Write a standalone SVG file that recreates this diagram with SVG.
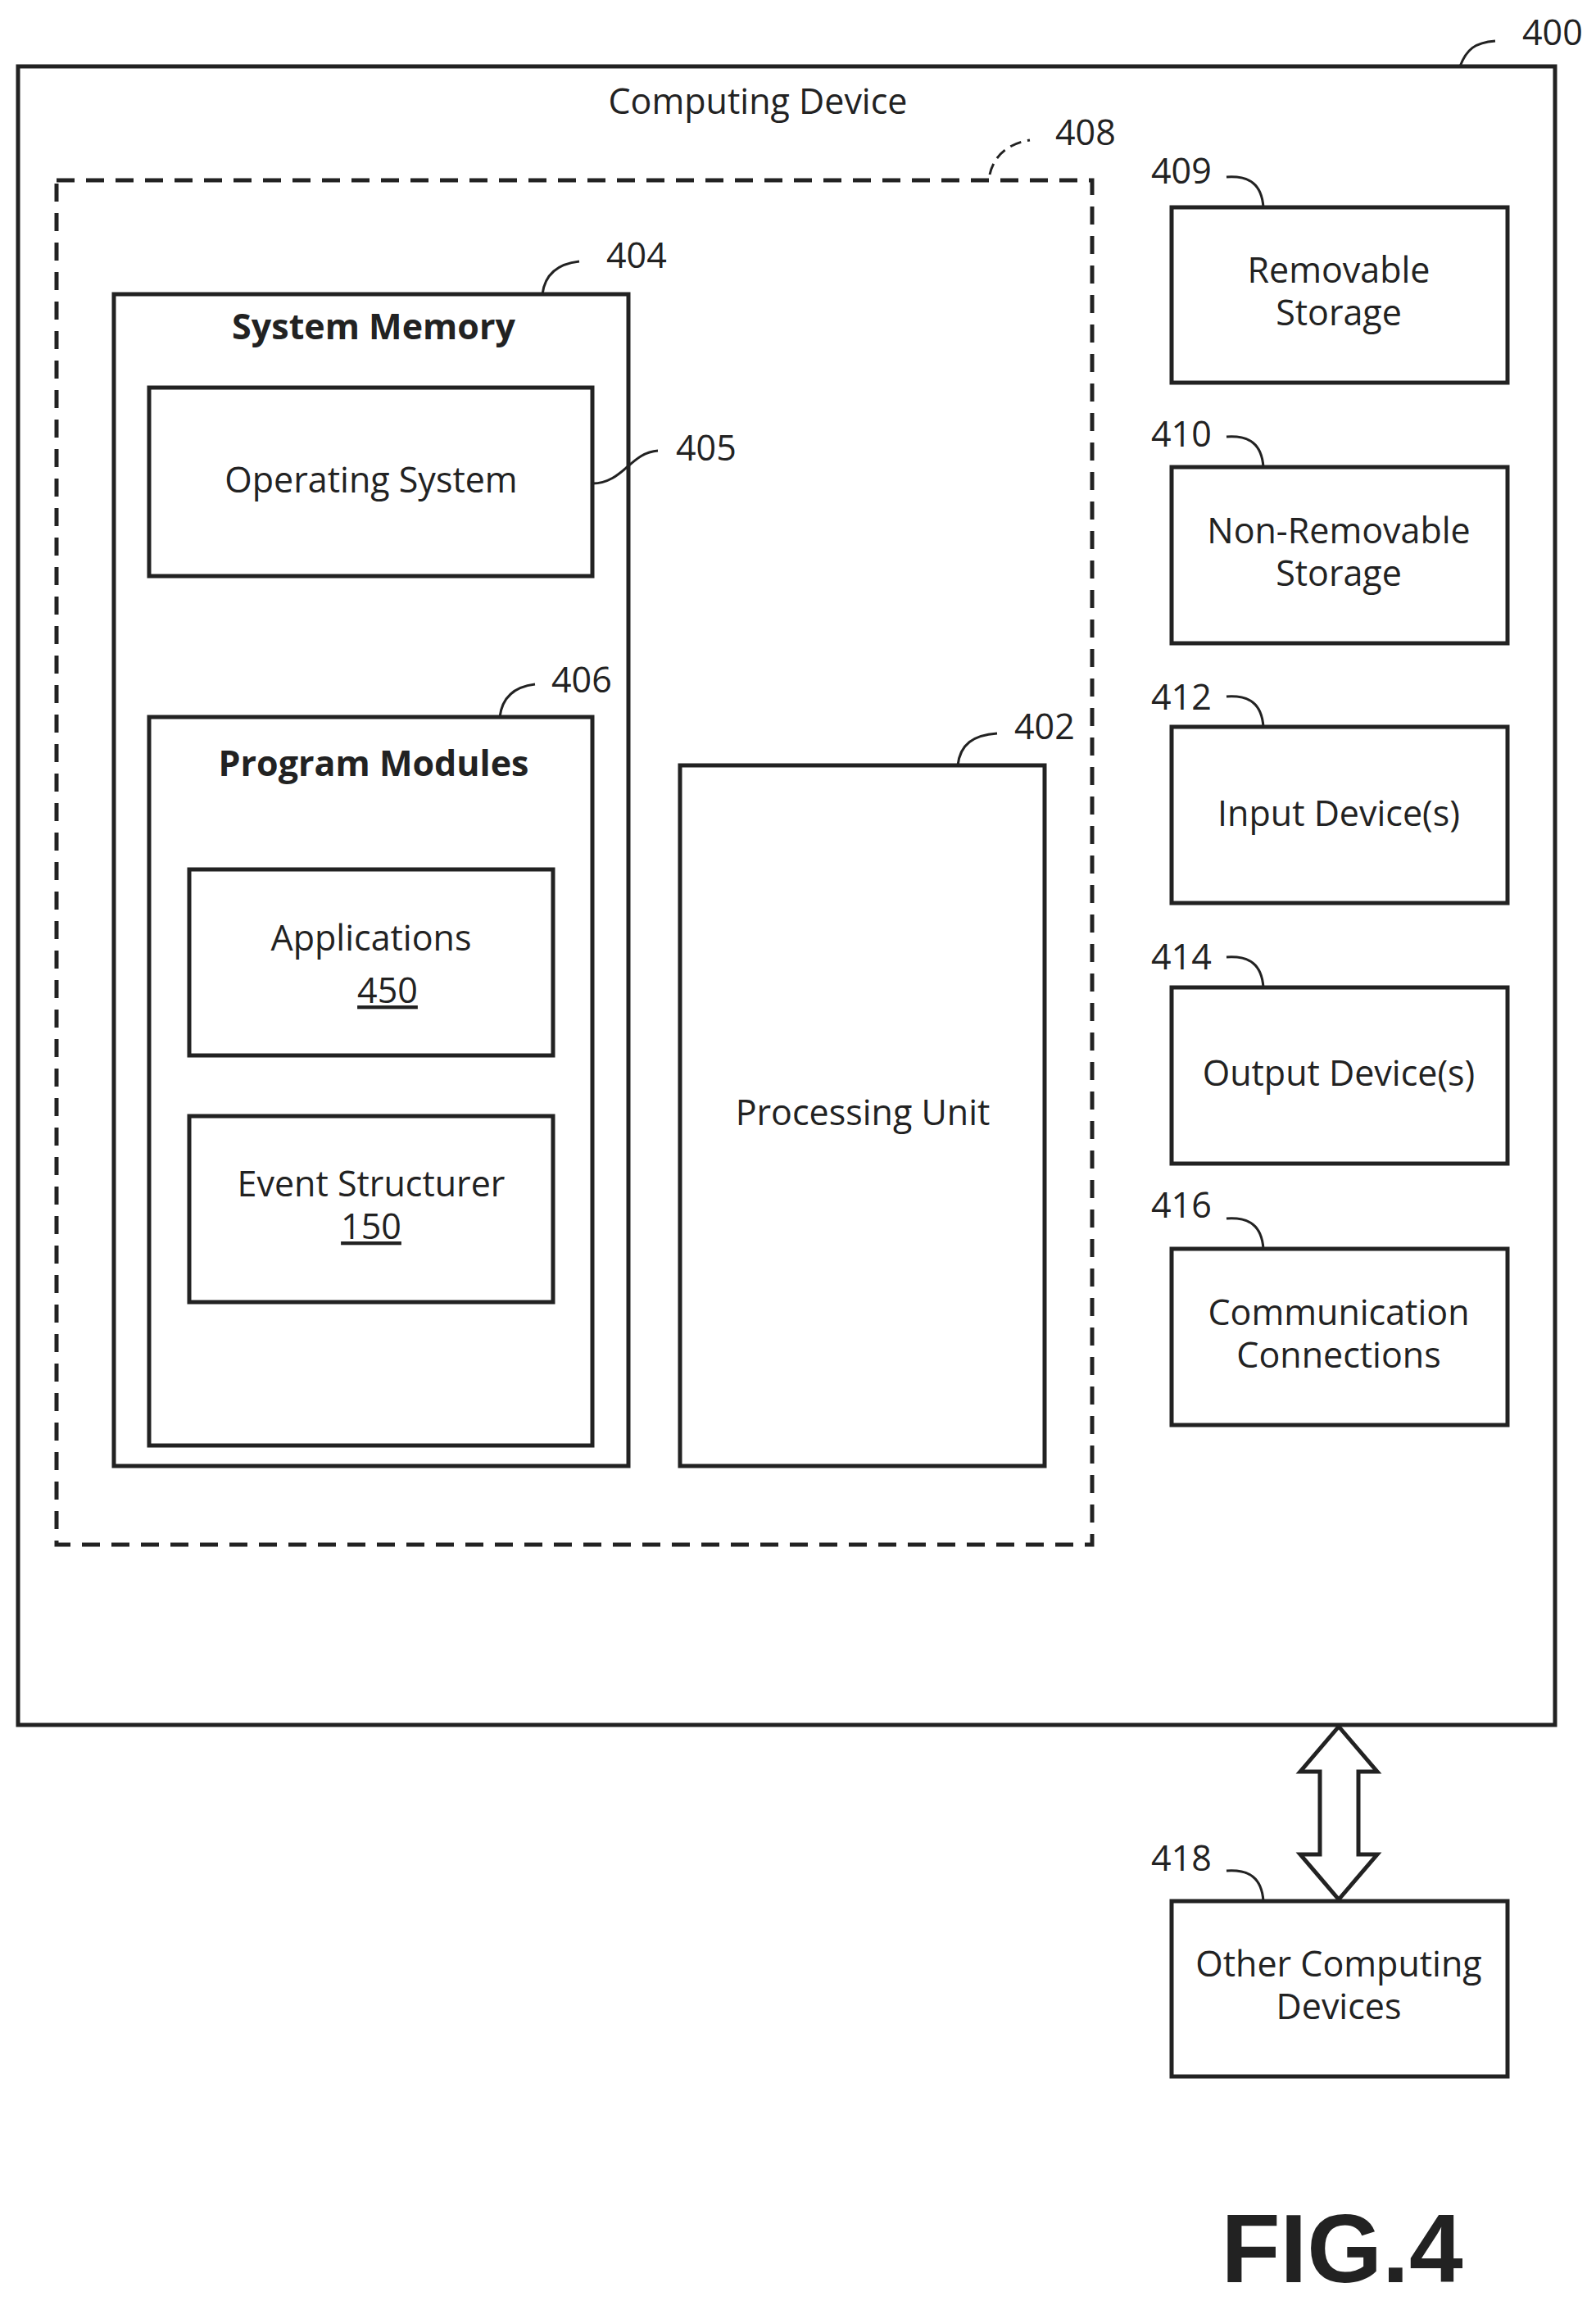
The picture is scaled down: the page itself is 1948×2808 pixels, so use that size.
<svg xmlns="http://www.w3.org/2000/svg" width="1948" height="2808" viewBox="0 0 1948 2808">
<style>
.b{fill:none;stroke:#222;stroke-width:5}
.l{fill:none;stroke:#222;stroke-width:3}
text{font-family:"Open Sans","Noto Sans","Liberation Sans",sans-serif;font-size:43px;fill:#222;text-anchor:middle}
.n{text-anchor:start}
.t{font-weight:bold}
</style>
<rect width="1948" height="2808" fill="#fff"/>
<g id="n400"><rect class="b" x="22" y="81" width="1876" height="2024"/><text x="925" y="139">Computing Device</text><text class="n" x="1858" y="55">400</text></g>
<g id="n408"><rect class="b" x="69" y="220" width="1264" height="1665" stroke-dasharray="22,14"/><text class="n" x="1288" y="177">408</text></g>
<g id="n404"><rect class="b" x="139" y="359" width="628" height="1430"/><text class="t" x="456" y="414">System Memory</text><text class="n" x="740" y="327">404</text></g>
<g id="n405"><rect class="b" x="182" y="473" width="541" height="230"/><text x="453" y="601">Operating System</text><text class="n" x="825" y="562">405</text></g>
<g id="n406"><rect class="b" x="182" y="875" width="541" height="889"/><text class="t" x="456" y="947">Program Modules</text><text class="n" x="673" y="845">406</text></g>
<g id="n450"><rect class="b" x="231" y="1061" width="444" height="227"/><text x="453" y="1160">Applications</text><text x="473" y="1224" text-decoration="underline">450</text></g>
<g id="n150"><rect class="b" x="231" y="1362" width="444" height="227"/><text x="453" y="1460">Event Structurer</text><text x="453" y="1512" text-decoration="underline">150</text></g>
<g id="n402"><rect class="b" x="830" y="934" width="445" height="855"/><text x="1053" y="1373">Processing Unit</text><text class="n" x="1238" y="902">402</text></g>
<g id="n409"><rect class="b" x="1430" y="253" width="410" height="214"/><text x="1634" y="345">Removable</text><text x="1634" y="397">Storage</text><text class="n" x="1405" y="224">409</text></g>
<g id="n410"><rect class="b" x="1430" y="570" width="410" height="215"/><text x="1634" y="663">Non-Removable</text><text x="1634" y="715">Storage</text><text class="n" x="1405" y="545">410</text></g>
<g id="n412"><rect class="b" x="1430" y="887" width="410" height="215"/><text x="1634" y="1008">Input Device(s)</text><text class="n" x="1405" y="866">412</text></g>
<g id="n414"><rect class="b" x="1430" y="1205" width="410" height="215"/><text x="1634" y="1325">Output Device(s)</text><text class="n" x="1405" y="1183">414</text></g>
<g id="n416"><rect class="b" x="1430" y="1524" width="410" height="215"/><text x="1634" y="1617">Communication</text><text x="1634" y="1669">Connections</text><text class="n" x="1405" y="1486">416</text></g>
<g id="n418"><rect class="b" x="1430" y="2320" width="410" height="214"/><text x="1634" y="2412">Other Computing</text><text x="1634" y="2464">Devices</text><text class="n" x="1405" y="2283">418</text></g>
<g id="connectors">
<path class="l" d="M1782,81 C1790,60 1800,52 1825,50"/>
<path class="l" d="M1208,213 C1212,195 1225,176 1257,171" stroke-dasharray="14,8"/>
<path class="l" d="M662,359 C665,335 680,322 707,319"/>
<path class="l" d="M723,590 C760,590 770,552 803,550"/>
<path class="l" d="M610,875 C613,850 628,838 653,835"/>
<path class="l" d="M1169,934 C1172,908 1188,897 1217,895"/>
<path class="l" d="M1497,216 C1525,214 1540,225 1542,253"/>
<path class="l" d="M1497,533 C1525,531 1540,542 1542,570"/>
<path class="l" d="M1497,850 C1525,848 1540,859 1542,887"/>
<path class="l" d="M1497,1168 C1525,1166 1540,1177 1542,1205"/>
<path class="l" d="M1497,1487 C1525,1485 1540,1496 1542,1524"/>
<path class="l" d="M1497,2283 C1525,2281 1540,2292 1542,2320"/>
<path class="b" d="M1634,2107 L1681,2162 L1658,2162 L1658,2263 L1681,2263 L1634,2318 L1587,2263 L1611,2263 L1611,2162 L1587,2162 Z" fill="#fff"/>
</g>
<text x="1638" y="2785" style="font-family:'Liberation Sans',Arial,sans-serif;font-weight:bold;font-size:118px">FIG.4</text>
</svg>
